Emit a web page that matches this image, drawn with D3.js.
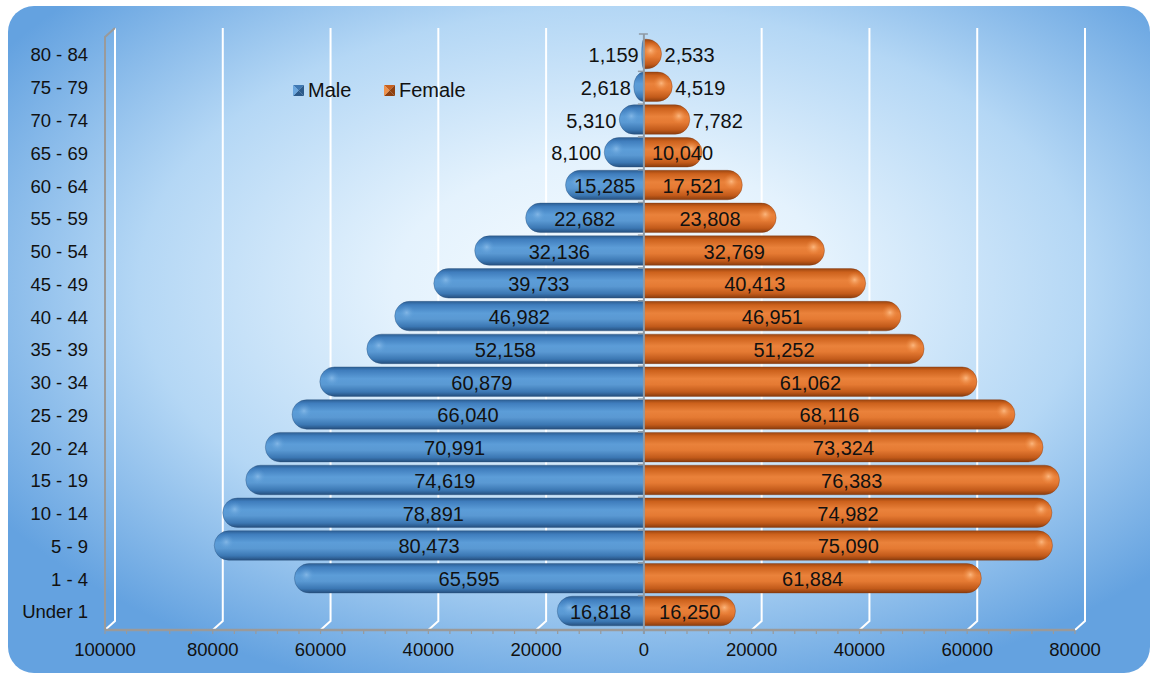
<!DOCTYPE html>
<html>
<head>
<meta charset="utf-8">
<script src="https://cdn.jsdelivr.net/npm/d3@7"></script>
<style>
  html, body { margin: 0; padding: 0; background: #ffffff; }
  svg { display: block; }
  text { font-family: "Liberation Sans", Arial, sans-serif; fill: #111; }
</style>
</head>
<body>
<svg id="chart" width="1153" height="675"></svg>
<script>
const categories = ["80 - 84","75 - 79","70 - 74","65 - 69","60 - 64","55 - 59","50 - 54","45 - 49","40 - 44","35 - 39","30 - 34","25 - 29","20 - 24","15 - 19","10 - 14","5 - 9","1 - 4","Under 1"];
const maleValues = [1159, 2618, 5310, 8100, 15285, 22682, 32136, 39733, 46982, 52158, 60879, 66040, 70991, 74619, 78891, 80473, 65595, 16818];
const femaleValues = [2533, 4519, 7782, 10040, 17521, 23808, 32769, 40413, 46951, 51252, 61062, 68116, 73324, 76383, 74982, 75090, 61884, 16250];
const tickValues = [-100000, -80000, -60000, -40000, -20000, 0, 20000, 40000, 60000, 80000];
const seriesNames = ["Male", "Female"];

const svg = d3.select("#chart");
const defs = svg.append("defs");

// background gradient
const bg = defs.append("radialGradient").attr("id", "bgGrad")
  .attr("cx", "53%").attr("cy", "42%").attr("r", "64%");
bg.append("stop").attr("offset", "0%").attr("stop-color", "#f7fcff");
bg.append("stop").attr("offset", "30%").attr("stop-color", "#e4f2fd");
bg.append("stop").attr("offset", "65%").attr("stop-color", "#b4d7f5");
bg.append("stop").attr("offset", "100%").attr("stop-color", "#64a2e0");

svg.append("rect").attr("x", 8).attr("y", 6).attr("width", 1142).attr("height", 667)
  .attr("rx", 26).attr("ry", 26).attr("fill", "url(#bgGrad)");

// bar gradients
function barGrad(id, stops) {
  const g = defs.append("linearGradient").attr("id", id).attr("x1", 0).attr("y1", 0).attr("x2", 0).attr("y2", 1);
  stops.forEach(s => g.append("stop").attr("offset", s[0]).attr("stop-color", s[1]));
}
barGrad("blueGrad", [["0%", "#2c5e93"], ["12%", "#3f7dbd"], ["40%", "#5c9dd8"], ["60%", "#5a99d3"], ["85%", "#3b77b3"], ["100%", "#254f7e"]]);
barGrad("orangeGrad", [["0%", "#9b4510"], ["12%", "#cc611c"], ["40%", "#ea823b"], ["60%", "#e57a33"], ["85%", "#c25a1a"], ["100%", "#8a3c0d"]]);
const hlO = defs.append("radialGradient").attr("id", "hlOrange");
hlO.append("stop").attr("offset", "0%").attr("stop-color", "#ffc08a").attr("stop-opacity", 0.85);
hlO.append("stop").attr("offset", "100%").attr("stop-color", "#f08a40").attr("stop-opacity", 0);
const hlB = defs.append("radialGradient").attr("id", "hlBlue");
hlB.append("stop").attr("offset", "0%").attr("stop-color", "#9cc8f0").attr("stop-opacity", 0.6);
hlB.append("stop").attr("offset", "100%").attr("stop-color", "#5c9dd8").attr("stop-opacity", 0);

// scales
const x = d3.scaleLinear().domain([-100000, 80000]).range([105, 1075]);
const y = d3.scaleBand().domain(categories).range([38.6, 628.4]).paddingInner(0.1).paddingOuter(0.05);
const axisY = 630;
const depthX = 10, depthY = -9;

// gridlines (3D back plane)
const grid = svg.append("g");
tickValues.forEach(t => {
  if (t === 0) return;
  const xf = x(t), xb = x(t) + depthX;
  grid.append("path")
    .attr("d", `M${xb},28 L${xb},${axisY + depthY} L${xf},${axisY}`)
    .attr("fill", "none").attr("stroke", "#ffffff").attr("stroke-width", 2);
});
// left wall edge
svg.append("path")
  .attr("d", `M${x(-100000) + depthX},28 L${x(-100000)},37 L${x(-100000)},${axisY}`)
  .attr("fill", "none").attr("stroke", "#9a9a9a").attr("stroke-width", 2);

// bottom axis
const axisG = svg.append("g");
axisG.append("line").attr("x1", x(-100000)).attr("x2", x(80000)).attr("y1", axisY).attr("y2", axisY)
  .attr("stroke", "#9a9a9a").attr("stroke-width", 2.5);
const minorTicks = d3.range(-100000, 80001, 4000);
axisG.selectAll("line.minor").data(minorTicks).join("line")
  .attr("x1", d => x(d)).attr("x2", d => x(d)).attr("y1", axisY).attr("y2", axisY + 4)
  .attr("stroke", "#9a9a9a").attr("stroke-width", 1.2);
axisG.selectAll("text.tick").data(tickValues).join("text")
  .attr("x", d => x(d)).attr("y", 650).attr("dy", "0.35em").attr("text-anchor", "middle")
  .style("font-size", "18.5px").text(d => String(Math.abs(d)));

// bars
const barH = y.bandwidth();
function barPath(outer, inner, y0, h) {
  const r = h / 2;
  const w = Math.abs(inner - outer);
  const rx = Math.min(r, w);
  const dir = outer < inner ? 1 : -1;
  const cx = outer + dir * rx;
  const sweep = dir === 1 ? 0 : 1;
  return `M${inner},${y0} L${cx},${y0} A${rx},${r} 0 0 ${sweep} ${cx},${y0 + h} L${inner},${y0 + h} Z`;
}
const barShift = 4;
const x0 = x(0);
const rows = categories.map((c, i) => ({ cat: c, male: maleValues[i], female: femaleValues[i] }));

const barsG = svg.append("g");
rows.forEach(d => {
  const y0 = y(d.cat) - 1;
  const mEnd = x(-d.male) + barShift;
  const fEnd = x(d.female) + barShift;
  barsG.append("path").attr("d", barPath(mEnd, x0, y0, barH))
    .attr("fill", "url(#blueGrad)").attr("stroke", "#2a4f78").attr("stroke-width", 0.6).attr("stroke-opacity", 0.6);
  barsG.append("path").attr("d", barPath(fEnd, x0, y0, barH))
    .attr("fill", "url(#orangeGrad)").attr("stroke", "#7a3510").attr("stroke-width", 0.6).attr("stroke-opacity", 0.6);
  const fw = fEnd - x0;
  if (fw > 14) {
    barsG.append("ellipse").attr("cx", fEnd - 11).attr("cy", y0 + barH * 0.38)
      .attr("rx", 8).attr("ry", 8).attr("fill", "url(#hlOrange)");
  }
  const mw = x0 - mEnd;
  if (mw > 14) {
    barsG.append("ellipse").attr("cx", mEnd + 12).attr("cy", y0 + barH * 0.38)
      .attr("rx", 8).attr("ry", 8).attr("fill", "url(#hlBlue)");
  }
});

// center axis
const cAxis = svg.append("g");
cAxis.append("line").attr("x1", x0).attr("x2", x0).attr("y1", 34).attr("y2", axisY + 4)
  .attr("stroke", "#8f9aa5").attr("stroke-width", 2);
cAxis.append("line").attr("x1", x0 - 5).attr("x2", x0 + 4).attr("y1", 34).attr("y2", 34)
  .attr("stroke", "#8f9aa5").attr("stroke-width", 1.5);
const boundaries = categories.map(c => y(c) - y.step() * y.paddingInner() / 2);
cAxis.selectAll("line.bt").data(boundaries.slice(1)).join("line")
  .attr("x1", x0 - 6).attr("x2", x0).attr("y1", d => d).attr("y2", d => d)
  .attr("stroke", "#8f9aa5").attr("stroke-width", 1.5);

// category labels
svg.append("g").selectAll("text").data(categories).join("text")
  .attr("x", 88).attr("y", d => y(d) + barH / 2).attr("dy", "0.35em")
  .attr("text-anchor", "end").style("font-size", "18.5px").text(d => d);

// value labels
const fmt = d3.format(",");
const labG = svg.append("g");
function placeLabel(val, cat, side) {
  const t = labG.append("text").attr("y", y(cat) + barH / 2).attr("dy", "0.35em")
    .style("font-size", "20px").text(fmt(val));
  const lw = t.node().getComputedTextLength();
  const end = side < 0 ? x(-val) + barShift : x(val) + barShift;
  const bw = Math.abs(end - x0);
  let cx;
  if (bw >= 50) {
    cx = (end + x0) / 2;
    if (side > 0) cx = Math.max(cx, x0 + 8 + lw / 2);
    else cx = Math.min(cx, x0 - 8 - lw / 2);
  } else {
    cx = side > 0 ? end + 3 + lw / 2 : end - 3 - lw / 2;
  }
  t.attr("x", cx).attr("text-anchor", "middle");
}
rows.forEach(d => {
  placeLabel(d.male, d.cat, -1);
  placeLabel(d.female, d.cat, 1);
});

// legend
function legendSquare(g, xx, yy, s, light, mid, dark) {
  const c = [xx + s / 2, yy + s / 2];
  g.append("path").attr("d", `M${xx},${yy} L${xx + s},${yy} L${c[0]},${c[1]} Z`).attr("fill", mid);
  g.append("path").attr("d", `M${xx + s},${yy} L${xx + s},${yy + s} L${c[0]},${c[1]} Z`).attr("fill", dark);
  g.append("path").attr("d", `M${xx},${yy + s} L${xx + s},${yy + s} L${c[0]},${c[1]} Z`).attr("fill", dark);
  g.append("path").attr("d", `M${xx},${yy} L${xx},${yy + s} L${c[0]},${c[1]} Z`).attr("fill", light);
}
const leg = svg.append("g");
legendSquare(leg, 293, 85, 11, "#6aa6de", "#3f78b3", "#2c5a8a");
leg.append("text").attr("x", 308).attr("y", 90).attr("dy", "0.35em").style("font-size", "20px").text(seriesNames[0]);
legendSquare(leg, 384, 85, 11, "#f0914a", "#c8601d", "#8f400f");
leg.append("text").attr("x", 399).attr("y", 90).attr("dy", "0.35em").style("font-size", "20px").text(seriesNames[1]);
</script>
</body>
</html>
